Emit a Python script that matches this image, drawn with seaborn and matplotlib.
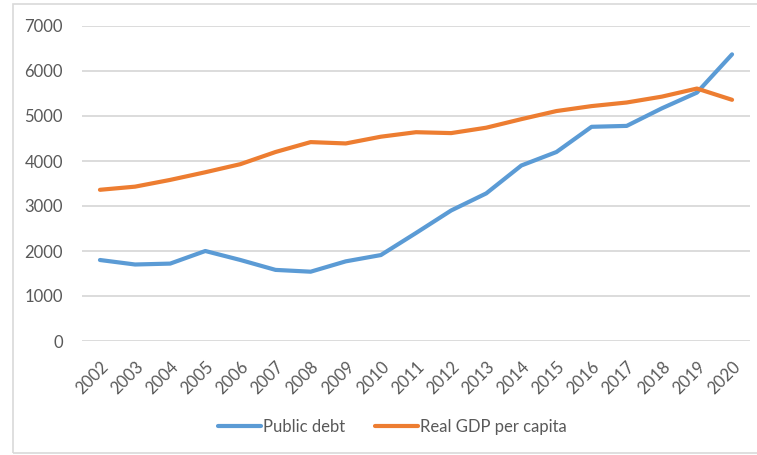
import matplotlib
matplotlib.use("Agg")
import matplotlib.pyplot as plt
import seaborn as sns
import pandas as pd
from matplotlib.patches import Rectangle

years = [str(y) for y in range(2002, 2021)]
public_debt = [1800, 1700, 1720, 2000, 1800, 1580, 1540, 1770, 1910, 2400,
               2900, 3280, 3900, 4200, 4760, 4780, 5170, 5520, 6370]
real_gdp_pc = [3360, 3430, 3580, 3750, 3930, 4200, 4420, 4390, 4540, 4640,
               4620, 4740, 4930, 5110, 5220, 5300, 5430, 5610, 5360]
series_names = ["Public debt", "Real GDP per capita"]
y_ticks = [0, 1000, 2000, 3000, 4000, 5000, 6000, 7000]

df = pd.DataFrame({
    "year": years * 2,
    "value": public_debt + real_gdp_pc,
    "series": [series_names[0]] * len(years) + [series_names[1]] * len(years),
})

sns.set_theme(style="white")
plt.rcParams["font.family"] = ["Lato", "DejaVu Sans"]

fig = plt.figure(figsize=(7.57, 4.55), dpi=100)
ax = fig.add_axes([82.4 / 757, 1 - 341 / 455, (749.6 - 82.4) / 757, 315 / 455])

sns.lineplot(data=df, x="year", y="value", hue="series", ax=ax,
             palette=["#5B9BD5", "#ED7D31"], linewidth=3.0, sort=False,
             legend=False)

ax.set_xlim(-0.5, len(years) - 0.5)
ax.set_ylim(0, 7000)
ax.set_yticks(y_ticks)
ax.set_yticklabels([str(t) for t in y_ticks])
ax.yaxis.grid(True, color="#D9D9D9", linewidth=1.3)
ax.set_axisbelow(True)
for s in ax.spines.values():
    s.set_visible(False)
ax.set_xlabel("")
ax.set_ylabel("")
ax.tick_params(axis="y", length=0, pad=14, labelsize=12, labelcolor="#595959")
ax.tick_params(axis="x", length=0, pad=13, labelsize=12, labelcolor="#595959")
for lab in ax.get_xticklabels():
    lab.set_rotation(45)
    lab.set_ha("right")
    lab.set_rotation_mode("anchor")

# outer chart frame
fig.patches.append(Rectangle((12.5 / 757, 2 / 455), 1.0, 449.5 / 455,
                             transform=fig.transFigure, fill=False,
                             edgecolor="#D9D9D9", linewidth=1.2))

handles = [plt.Line2D([], [], color=c, linewidth=3.0) for c in ["#5B9BD5", "#ED7D31"]]
fig.legend(handles, series_names, loc="center", bbox_to_anchor=(392 / 757, 1 - 427 / 455),
           ncol=2, frameon=False, fontsize=12, handlelength=2.6, handletextpad=0.1,
           columnspacing=1.8, labelcolor="#595959")

fig.savefig("out.png", dpi=100)
